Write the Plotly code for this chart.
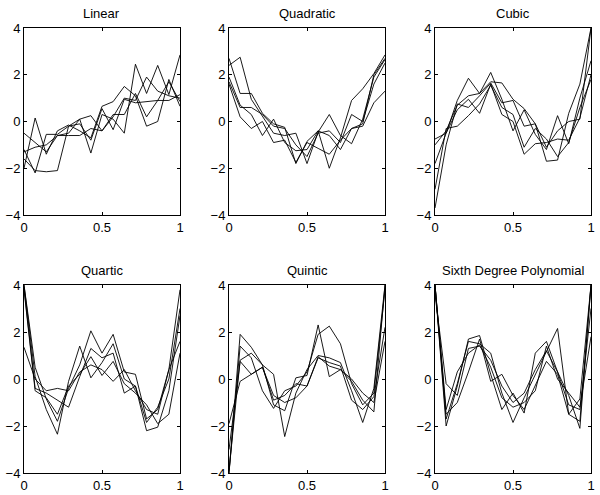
import plotly.graph_objects as go

x_vals = [i / 14 for i in range(15)]

titles = ["Linear", "Quadratic", "Cubic", "Quartic", "Quintic", "Sixth Degree Polynomial"]

linear = [
    [-0.5, -0.9, -1.3, -0.6, -0.5, 0.1, 0.25, -0.4, 0.2, 1.0, 0.9, 1.9, 1.3, 1.1, 1.0],
    [-2.0, 0.15, -1.4, -0.4, -0.15, -0.4, -0.7, 0.65, 0.85, 1.5, 1.1, -0.2, 0.0, 1.8, 0.65],
    [-1.2, -2.2, -0.55, -0.55, -0.2, 0.1, -1.35, 0.3, 0.1, -0.5, 2.45, 1.2, 2.4, 1.15, 2.85],
    [-1.6, -2.1, -2.15, -2.1, -0.2, -0.1, -0.8, 0.55, -0.35, 0.95, 0.8, 0.85, 0.9, 0.9, 1.15],
    [-1.3, -1.1, -1.0, -0.6, -0.6, -0.6, -0.3, -0.4, 0.3, 0.3, 1.2, 0.2, 0.9, 1.7, 0.85],
]
quadratic = [
    [2.7, 1.2, 1.2, 0.35, -0.1, -0.25, -1.8, -0.85, -0.4, -2.0, -0.7, 0.9, 1.4, 2.05, 2.85],
    [2.4, 2.75, 0.95, 0.2, -0.5, -0.6, -0.5, -1.8, -0.45, 0.3, -0.6, -0.95, 0.1, 1.9, 2.65],
    [1.9, 0.7, 0.3, -0.6, 0.1, -0.9, -1.25, -1.2, -0.4, -0.6, -1.2, -0.3, -0.2, 0.8, 1.3],
    [1.7, 0.6, 0.6, 0.3, -0.2, -0.3, -1.0, -1.5, -0.5, -0.4, -0.9, 0.3, 0.0, 1.6, 2.5],
    [1.6, 0.2, -0.3, 0.0, -0.9, -0.8, -1.75, -0.9, -1.15, -1.4, -0.8, -0.3, -0.1, 2.0, 2.7],
]
cubic = [
    [-0.75, -0.5, 0.9, 1.85, 1.2, 2.1, 0.95, -0.4, 0.5, -0.55, -1.2, 0.25, -0.95, 1.0, 2.6],
    [-1.0, -0.4, 0.7, 1.1, 1.2, 1.7, 1.65, 0.95, 0.55, -0.1, -1.7, -1.65, 0.35, 1.6, 4.0],
    [-1.8, -0.5, 0.5, 0.95, 0.35, 1.6, 0.3, 0.0, -1.4, -0.95, -0.9, -0.75, -0.8, 0.15, 2.0],
    [-2.9, -0.3, -0.2, 0.25, 0.75, 1.55, 0.6, 0.3, -1.1, -0.3, -0.75, -1.5, -0.9, 0.6, 1.8],
    [-3.7, -1.0, 0.75, 0.6, 1.1, 1.65, 0.8, 0.9, -0.2, -0.1, -1.1, -0.4, 0.0, 0.1, 4.0],
]
quartic = [
    [4.0, 0.5, -0.85, -1.8, -0.4, 0.6, 2.05, 1.1, 1.9, 0.3, 0.2, -1.7, -1.3, 0.4, 3.8],
    [4.0, 0.1, -1.3, -2.35, -0.1, 1.4, 0.05, 0.7, 1.5, 0.0, -0.3, -1.85, -1.2, 0.0, 3.0],
    [3.9, -0.4, -0.6, -0.9, -1.2, 0.1, 1.3, 0.9, 1.1, -0.6, -0.3, -2.2, -2.05, -0.5, 2.7],
    [3.8, -0.5, -0.8, -1.5, -0.3, 0.2, 0.95, 0.15, 0.75, -0.2, -0.6, -1.1, -1.9, -1.5, 1.1],
    [1.35, 0.0, -0.5, -0.4, -0.5, 0.3, 0.6, 0.4, -0.1, 0.4, -0.5, -1.3, -1.5, 0.4, 1.6],
]
quintic = [
    [-4.0, 1.9, 1.35, 0.6, -1.1, -1.35, 0.05, 0.15, 2.3, 0.1, 0.4, -0.1, -0.9, -1.4, 4.0],
    [-4.0, 1.4, 0.9, -0.5, -1.25, -0.5, -0.3, 0.3, 1.9, 2.25, 1.5, -0.2, -1.1, -0.6, 3.8],
    [-3.9, 0.8, 1.1, 0.6, 0.2, -2.45, -0.6, 0.4, 1.0, 0.9, 0.7, -0.5, -1.85, -0.4, 4.0],
    [-3.0, 0.75, 0.2, 0.5, -0.7, -1.0, -0.8, -0.3, 0.9, 0.7, 0.55, -0.9, -1.3, -0.75, 2.2],
    [-1.9, -0.1, 0.2, 0.5, -0.9, -0.7, -0.2, -0.3, 0.95, 0.55, 0.4, 0.0, -0.6, -1.0, 1.6],
]
sixth = [
    [4.0, -2.0, -0.3, 1.7, 1.85, 0.2, -1.3, -0.6, -1.45, 1.1, 1.6, 0.3, -0.7, -2.1, 4.0],
    [4.0, -1.7, -0.2, 1.6, 1.5, 1.1, -0.6, -1.85, -0.8, 0.2, 1.2, 2.15, -1.5, -0.85, 4.0],
    [4.0, -1.5, -1.0, 0.3, 1.7, -0.1, 0.2, -0.7, -1.3, -0.3, 0.75, 0.2, -1.5, -1.8, 4.0],
    [4.0, -1.3, 0.3, 1.1, 1.45, 0.5, -0.8, -1.2, -1.0, -0.5, 1.4, 0.0, -0.6, -1.2, 1.8],
    [3.6, -0.2, -0.7, 1.3, 1.4, 0.8, -0.3, -1.0, -0.6, 0.4, 1.2, 0.3, -1.1, -1.3, 3.0],
]

panels = [linear, quadratic, cubic, quartic, quintic, sixth]

x_ticks = [0, 0.5, 1]
x_ticktext = ["0", "0.5", "1"]
y_ticks = [-4, -2, 0, 2, 4]
y_ticktext = ["\u22124", "\u22122", "0", "2", "4"]

W, H = 600, 495
col_px = [(24, 180), (229, 385), (435, 591)]
row_px = [(28, 215), (285, 473)]

fig = go.Figure()
font = dict(family="Liberation Sans, Arial, Helvetica, sans-serif", size=13, color="black")

for k, data in enumerate(panels):
    r, c = divmod(k, 3)
    n = k + 1
    xa = "x" if n == 1 else f"x{n}"
    ya = "y" if n == 1 else f"y{n}"
    for series in data:
        fig.add_trace(go.Scatter(x=x_vals, y=series, mode="lines",
                                 line=dict(color="black", width=0.9),
                                 xaxis=xa, yaxis=ya, showlegend=False,
                                 hoverinfo="skip"))
    x0, x1 = col_px[c]
    y0, y1 = row_px[r]
    xdom = [x0 / W, x1 / W]
    ydom = [1 - y1 / H, 1 - y0 / H]
    axcommon = dict(showgrid=False, zeroline=False, showline=True, linecolor="black",
                    linewidth=1, mirror="ticks", ticks="inside", ticklen=3,
                    tickcolor="black", tickwidth=1, tickfont=font, fixedrange=True,
                    automargin=False, ticklabeloverflow="allow")
    fig.update_layout({
        ("xaxis" if n == 1 else f"xaxis{n}"): dict(domain=xdom, range=[0, 1], anchor=ya,
                                                   tickvals=x_ticks, ticktext=x_ticktext, **axcommon),
        ("yaxis" if n == 1 else f"yaxis{n}"): dict(domain=ydom, range=[-4, 4], anchor=xa,
                                                   tickvals=y_ticks, ticktext=y_ticktext, **axcommon),
    })
    fig.add_annotation(text=titles[k], x=(xdom[0] + xdom[1]) / 2, y=ydom[1],
                       xref="paper", yref="paper", xanchor="center", yanchor="bottom",
                       yshift=5, showarrow=False, font=dict(family=font["family"], size=13, color="black"))

fig.update_layout(width=W, height=H, margin=dict(l=0, r=0, t=0, b=0, autoexpand=False),
                  paper_bgcolor="white", plot_bgcolor="white", showlegend=False)

fig.write_html("out.html", config={"displayModeBar": False},
               post_script="document.body.style.margin='0';document.body.style.overflow='hidden';")
